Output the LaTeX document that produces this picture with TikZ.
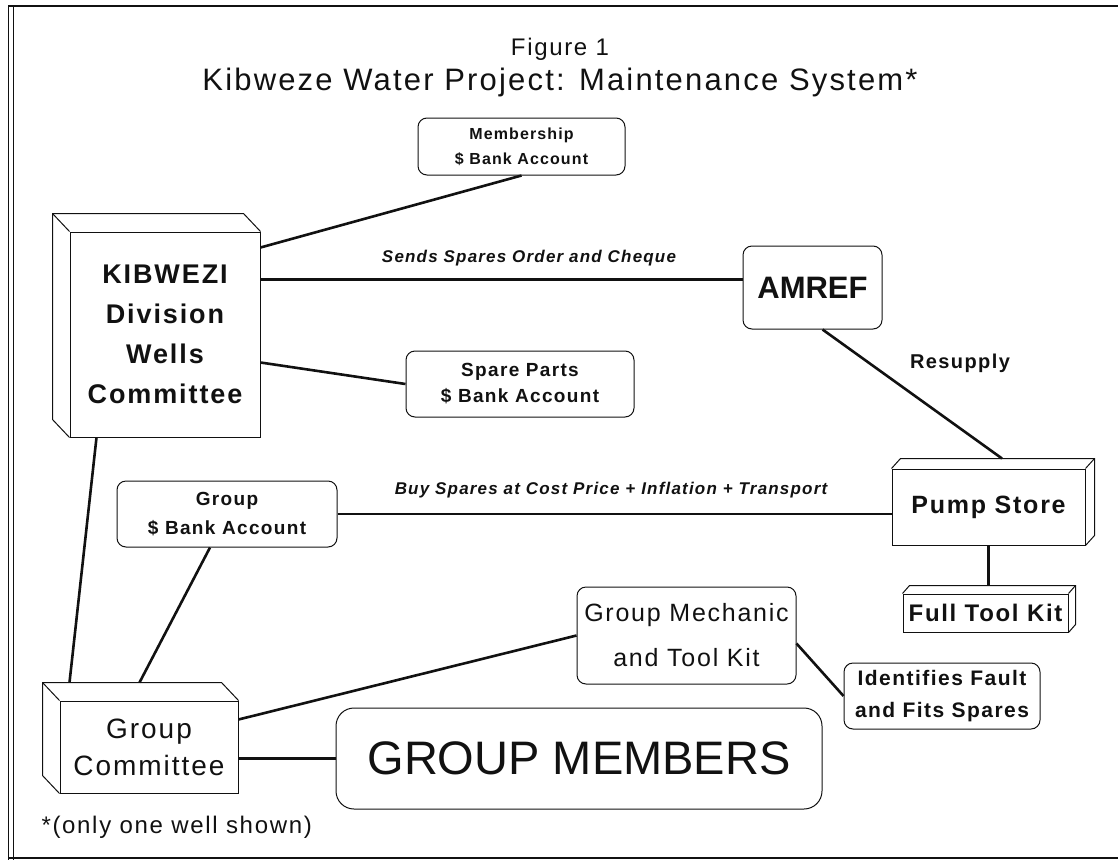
\documentclass[tikz,border=0pt]{standalone}
\usepackage{fontspec}
\setmainfont[LetterSpace=7]{Liberation Sans}
\usepackage{tikz}
\usetikzlibrary{calc}
\definecolor{scanInk}{HTML}{111111}
\newcommand{\fs}[2]{\fontsize{#1}{#2}\selectfont}

\tikzset{
  roundbox/.style={draw=scanInk,line width=1pt,rounded corners=9pt,inner sep=0pt,align=center,text=scanInk},
  slabface/.style={draw=scanInk,line width=1pt,inner sep=0pt,align=center,text=scanInk},
  slabedge/.style={draw=scanInk,line width=1pt},
  link/.style={draw=scanInk,line width=2.6pt},
  lbl/.style={font=\fs{17}{19}\bfseries\itshape,text=scanInk},
}

\begin{document}
\begin{tikzpicture}[x=1pt,y=-1pt]
  \useasboundingbox (0,0) rectangle (1118,862);
  % frame of the scanned page
  \draw[scanInk,line width=1pt] (8,6) -- (8,860);
  \draw[scanInk,line width=1pt] (13,6) -- (13,860);
  \draw[scanInk,line width=2.5pt] (8,6) -- (1118,6);
  \draw[scanInk,line width=1.2pt] (8,858) -- (1118,858);

  % heading
  \node[font=\fs{24}{26},text=scanInk] (fig) at (560,49) {Figure 1};
  \node[font=\fs{31}{33},text=scanInk] (title) at (560,82) {Kibweze Water Project: Maintenance System*};

  % solid blocks
  \node[slabface,minimum width=190,minimum height=205,font=\fs{27}{40}\bfseries] (kib) at (165,334.5) {KIBWEZI\\Division\\Wells\\Committee};
  \draw[slabedge] (kib.north east) -- ++(-17,-18) -- ($(kib.north west)+(-17,-18)$) -- ($(kib.south west)+(-17,-18)$) -- (kib.south west);
  \draw[slabedge] (kib.north west) -- ++(-17,-18);

  \node[slabface,minimum width=178,minimum height=92,font=\fs{28}{37}] (comm) at (149,747) {Group\\Committee};
  \draw[slabedge] (comm.north east) -- ++(-17,-18) -- ($(comm.north west)+(-17,-18)$) -- ($(comm.south west)+(-17,-18)$) -- (comm.south west);
  \draw[slabedge] (comm.north west) -- ++(-17,-18);

  \node[slabface,minimum width=193,minimum height=76,font=\fs{25}{27}\bfseries] (pump) at (988.5,507) {Pump Store};
  \draw[slabedge] (pump.north west) -- ++(9,-10) -- ($(pump.north east)+(9,-10)$) -- ($(pump.south east)+(9,-10)$) -- (pump.south east);
  \draw[slabedge] (pump.north east) -- ++(9,-10);

  \node[slabface,minimum width=165,minimum height=38,font=\fs{24}{26}\bfseries] (toolkit) at (985.5,613) {Full Tool Kit};
  \draw[slabedge] (toolkit.north west) -- ++(7,-8) -- ($(toolkit.north east)+(7,-8)$) -- ($(toolkit.south east)+(7,-8)$) -- (toolkit.south east);
  \draw[slabedge] (toolkit.north east) -- ++(7,-8);

  % rounded boxes
  \node[roundbox,minimum width=207,minimum height=57,font=\fs{16}{25}\bfseries] (memb) at (521.5,146.5) {Membership\\\$ Bank Account};
  \node[roundbox,minimum width=139,minimum height=83,font=\fs{31}{34}\bfseries\addfontfeature{LetterSpace=0}] (amref) at (812.5,287.5) {AMREF};
  \node[roundbox,minimum width=228,minimum height=66,font=\fs{19}{26}\bfseries] (spare) at (520,384) {Spare Parts\\\$ Bank Account};
  \node[roundbox,minimum width=220,minimum height=66,font=\fs{19}{29}\bfseries] (grpbank) at (227,514) {Group\\\$ Bank Account};
  \node[roundbox,minimum width=219,minimum height=97,font=\fs{25}{45}] (mech) at (686.5,635.5) {Group Mechanic\\and Tool Kit};
  \node[roundbox,minimum width=196,minimum height=66,font=\fs{21}{32}\bfseries] (fault) at (942,696) {Identifies Fault\\and Fits Spares};
  \node[roundbox,rounded corners=18pt,minimum width=486,minimum height=101,font=\fs{47}{50}\addfontfeature{LetterSpace=0}] (members) at (579,758.5) {GROUP MEMBERS};

  % connectors
  \draw[link] ($(kib.north east)+(0,16)$) -- (memb.south);
  \draw[link] ($(kib.north east)+(0,48)$) -- ($(amref.west)+(0,-8)$);
  \draw[link] ($(kib.north east)+(0,131)$) -- (spare.west);
  \draw[link] ($(amref.south)+(10,0)$) -- ($(pump.north)+(13.5,-10)$);
  \draw[link] ($(kib.south west)+(27,0)$) -- ($(comm.north west)+(10,-18)$);
  \draw[link] ($(grpbank.south)+(-17,0)$) -- ($(comm.north west)+(80,-18)$);
  \draw[link] (grpbank.east) -- (grpbank.east -| pump.west);
  \draw[link] (pump.south) -- ($(toolkit.north)+(3,-8)$);
  \draw[link] ($(comm.north east)+(0,19)$) -- (mech.west);
  \draw[link] (members.west) -- (members.west -| comm.east);
  \draw[link] ($(mech.east)+(0,8)$) -- (fault.west);

  % connector labels
  \node[lbl] (sendlbl) at (529,258) {Sends Spares Order and Cheque};
  \node[lbl] (buylbl) at (611,490) {Buy Spares at Cost Price + Inflation + Transport};
  \node[font=\fs{20}{22}\bfseries,text=scanInk] (resup) at (960,363) {Resupply};

  % footnote
  \node[anchor=west,font=\fs{24}{26},text=scanInk] (note) at (38,827) {*(only one well shown)};
\end{tikzpicture}
\end{document}
